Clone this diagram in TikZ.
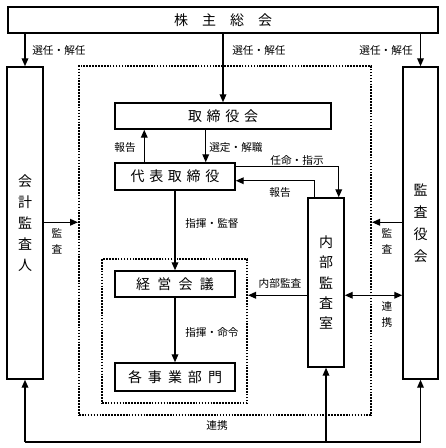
\documentclass[tikz,border=0pt]{standalone}
\usepackage{fontspec}
\setmainfont{Noto Sans CJK JP}
\usetikzlibrary{fit,arrows.meta}
\begin{document}
\begin{tikzpicture}[x=0.75pt,y=-0.75pt,
  box/.style={draw, line width=1.1pt, inner sep=0pt},
  btxt/.style={inner sep=0pt, align=center, font=\fontsize{10.5}{12}\selectfont},
  dotbox/.style={draw, line width=1.5pt, dash pattern=on 1.2pt off 1pt, inner sep=0pt},
  lbl/.style={inner sep=0pt, font=\fontsize{8}{9}\selectfont},
  vlbl/.style={inner sep=0pt, align=center, font=\fontsize{8}{12}\selectfont},
  arr/.style={-{Triangle[length=6pt,width=5pt]}, line width=1pt},
  darr/.style={{Triangle[length=6pt,width=5pt]}-{Triangle[length=6pt,width=5pt]}, line width=1pt},
  ln/.style={line width=1pt}]
\useasboundingbox (0,0) rectangle (445,448);
% boxes
\node[box, fit={(8,7)(438,33)}, label={[btxt]center:株\hspace{10.5pt}主\hspace{10.5pt}総\hspace{10.5pt}会}] (gm) {};
\node[box, fit={(7,67)(43,379)}, label={[btxt, font=\fontsize{10.5}{15.75}\selectfont]center:会\\計\\監\\査\\人}] (ka) {};
\node[box, fit={(403,67)(438,379)}, label={[btxt, font=\fontsize{10.5}{16.5}\selectfont]center:監\\査\\役\\会}] (ky) {};
\node[dotbox, fit={(79,66)(371,415)}] (outer) {};
\node[box, fit={(115,103)(331,129)}, label={[btxt]center:取\hspace{3.5pt}締\hspace{3.5pt}役\hspace{3.5pt}会}] (tb) {};
\node[box, fit={(115,163)(235,190)}, label={[btxt]center:代\hspace{3.5pt}表\hspace{3.5pt}取\hspace{3.5pt}締\hspace{3.5pt}役}] (rep) {};
\node[box, fit={(308,198)(344,367)}, label={[btxt, font=\fontsize{10.5}{15.2}\selectfont]center:内\\部\\監\\査\\室}] (ia) {};
\node[dotbox, fit={(102,259)(247,403)}] (inner) {};
\node[box, fit={(115,271)(235,297)}, label={[btxt]center:経\hspace{5.5pt}営\hspace{5.5pt}会\hspace{5.5pt}議}] (km) {};
\node[box, fit={(115,363)(235,391)}, label={[btxt]center:各\hspace{4.5pt}事\hspace{4.5pt}業\hspace{4.5pt}部\hspace{4.5pt}門}] (jb) {};
% arrows from general meeting
\draw[arr] (ka.north |- gm.south) -- (ka.north);
\draw[arr] (tb.north |- gm.south) -- (tb.north);
\draw[arr] (ky.north |- gm.south) -- (ky.north);
% board <-> representative
\draw[arr] ([xshift=22.5pt]rep.north west) -- ([xshift=22.5pt]rep.north west |- tb.south);
\draw[arr] ([xshift=-22.5pt]rep.north east |- tb.south) -- ([xshift=-22.5pt]rep.north east);
\draw[arr] ([yshift=-3pt]rep.north east) -| ([xshift=-4.5pt]ia.north east);
\draw[arr] ([xshift=5.25pt]ia.north west) |- ([yshift=7.5pt]rep.south east);
\draw[arr] (rep.south) -- (km.north);
\draw[arr] (km.south) -- (jb.north);
% internal audit
\draw[arr] ([yshift=-73.5pt]ia.north west) -- ([yshift=-73.5pt]ia.north west -| inner.east);
\draw[darr] ([yshift=-73.5pt]ia.north east) -- ([yshift=-73.5pt]ia.north east -| ky.west);
% audits
\draw[arr] ([yshift=-117pt]ka.north east) -- ([yshift=-117pt]ka.north east -| outer.west);
\draw[arr] ([yshift=-117pt]ky.north west) -- ([yshift=-117pt]ky.north west -| outer.east);
% bottom cooperation
\coordinate (bb) at (223,442);
\draw[ln] (bb -| ka.south) -- (bb -| ky.south);
\draw[arr] (bb -| ka.south) -- (ka.south);
\draw[arr] (bb -| ky.south) -- (ky.south);
\draw[arr] (bb -| ia.south) -- (ia.south);
% labels
\node[lbl, anchor=west] (l1) at (32,50) {選任・解任};
\node[lbl, anchor=west] (l2) at (232,50) {選任・解任};
\node[lbl, anchor=east] (l3) at (413,50) {選任・解任};
\node[lbl] (l4) at (125,147) {報告};
\node[lbl, anchor=west] (l5) at (209,147) {選定・解職};
\node[lbl] (l6) at (297,160) {任命・指示};
\node[lbl] (l7) at (280,192) {報告};
\node[lbl, anchor=west] (l8) at (185,223) {指揮・監督};
\node[lbl] (l9) at (280,283) {内部監査};
\node[lbl, anchor=west] (l10) at (185,332) {指揮・命令};
\node[lbl] (l11) at (217,425) {連携};
\node[vlbl] (l12) at (57,241) {監\\査};
\node[vlbl] (l13) at (387,241) {監\\査};
\node[vlbl] (l14) at (387,314) {連\\携};
\end{tikzpicture}
\end{document}
